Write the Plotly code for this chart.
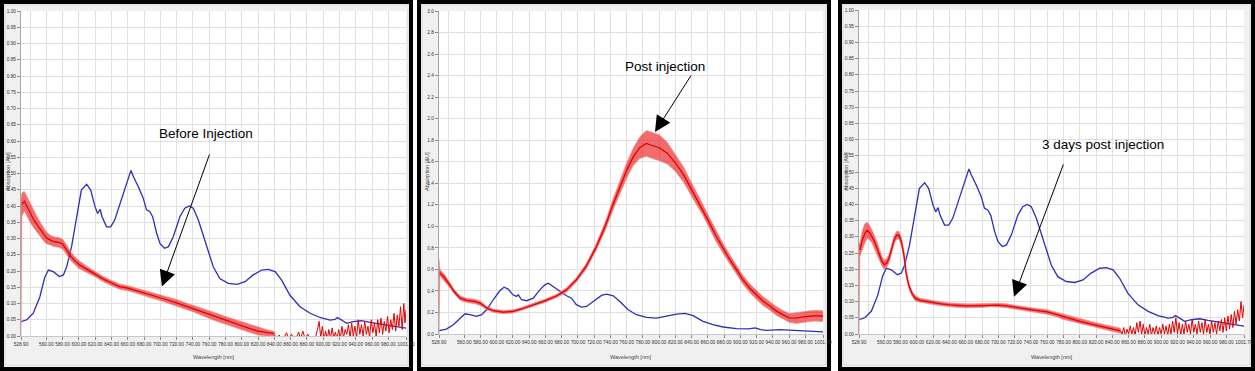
import plotly.graph_objects as go

# ---------------- data ----------------
# Blue reference spectrum (panels 1 and 3)
wl_blue_ref = [528.9, 536, 544, 552, 558, 562.5, 568.6, 576, 581, 585, 591, 597, 603, 609.5,
               614.5, 619.8, 623, 626, 628.4, 634, 639, 644, 650.5, 656.6, 662, 664, 667, 673,
               679, 683, 687, 690.6, 695.5, 699.6, 705, 710, 716, 724, 730, 735.6, 740.5, 746.7,
               753, 759, 765, 773, 783.5, 794, 804, 814, 824.5, 832.6, 841, 849, 859, 871.5,
               884, 896, 908.4, 914.5, 917.4, 922.7, 928.8, 937, 947.3, 957.5, 970, 982, 1001.7]
abs_blue_ref = [0.044, 0.05, 0.07, 0.12, 0.18, 0.203, 0.198, 0.183, 0.188, 0.213, 0.275, 0.367, 0.449, 0.467,
                0.449, 0.398, 0.377, 0.39, 0.367, 0.336, 0.336, 0.357, 0.408, 0.459, 0.495, 0.509, 0.49, 0.459,
                0.424, 0.388, 0.383, 0.367, 0.316, 0.285, 0.27, 0.275, 0.306, 0.367, 0.393, 0.40, 0.393, 0.357,
                0.306, 0.254, 0.213, 0.177, 0.162, 0.159, 0.167, 0.188, 0.203, 0.205, 0.198, 0.172, 0.126, 0.09,
                0.07, 0.057, 0.049, 0.051, 0.057, 0.049, 0.039, 0.044, 0.047, 0.042, 0.037, 0.031, 0.024]

# Blue spectrum in panel 2
wl_blue_post = [528.9, 538, 546.5, 554.7, 561, 567, 575, 581.4, 587.5, 595.7, 604, 609, 614, 620,
                624.4, 626.5, 630.6, 636.7, 645, 653, 659.3, 663.4, 669.5, 677.8, 686, 692, 698,
                704.4, 710.5, 718.8, 729, 735, 743.4, 751.6, 761.8, 772, 784.4, 796.7, 809, 821.3,
                831.5, 841.8, 854, 866.4, 878.7, 895, 910, 918, 925, 932, 948.4, 969, 1001.7]
abs_blue_post = [0.031, 0.046, 0.086, 0.148, 0.188, 0.179, 0.164, 0.179, 0.225, 0.318, 0.404, 0.435, 0.417, 0.364,
                 0.349, 0.364, 0.318, 0.309, 0.333, 0.41, 0.457, 0.472, 0.441, 0.395, 0.355, 0.333, 0.272,
                 0.25, 0.256, 0.302, 0.358, 0.37, 0.355, 0.302, 0.225, 0.179, 0.154, 0.148, 0.164, 0.185,
                 0.191, 0.17, 0.117, 0.086, 0.065, 0.049, 0.047, 0.056, 0.04, 0.034, 0.04, 0.031, 0.019]

# Red spectrum, panel 1 (before injection): noisy band, lower / upper edge
wl_red_before = [528.9, 530, 533, 536, 540, 544, 548, 552, 556, 560, 565, 570, 575, 580, 585, 590, 595,
                 600, 610, 620, 630, 640, 650, 660, 670, 680, 690, 700, 710, 720, 730, 740, 750, 760,
                 770, 780, 790, 800, 810, 820, 830, 840]
hi_red_before = [0.42, 0.44, 0.445, 0.43, 0.405, 0.385, 0.37, 0.352, 0.335, 0.32, 0.31, 0.305, 0.303, 0.298,
                 0.28, 0.258, 0.244, 0.232, 0.214, 0.198, 0.183, 0.171, 0.16, 0.155, 0.148, 0.141, 0.134,
                 0.127, 0.119, 0.112, 0.103, 0.095, 0.087, 0.078, 0.069, 0.06, 0.052, 0.043, 0.035, 0.027,
                 0.02, 0.014]
lo_red_before = [0.0, 0.37, 0.385, 0.37, 0.35, 0.335, 0.32, 0.308, 0.295, 0.284, 0.28, 0.275, 0.273, 0.268,
                 0.25, 0.232, 0.22, 0.208, 0.196, 0.182, 0.167, 0.155, 0.144, 0.139, 0.132, 0.125, 0.116,
                 0.109, 0.101, 0.092, 0.083, 0.075, 0.065, 0.054, 0.045, 0.036, 0.028, 0.019, 0.011, 0.003,
                 0.0, 0.0]
# noisy tail near zero (spikes)
wl_tail_before = [840, 843, 846, 849, 852, 855, 858, 861, 864, 867, 870, 872, 875, 878, 881, 884, 887, 890,
                  893, 895, 897, 899, 901, 903, 905, 907, 909, 911, 913, 915, 917, 919, 921, 923, 925, 927,
                  929, 931, 933, 935, 937, 939, 941, 943, 945, 947, 949, 951, 953, 955, 957, 959, 961, 963,
                  965, 967, 969, 971, 973, 975, 977, 979, 981, 983, 985, 987, 989, 991, 993, 995, 997, 999,
                  1000.5, 1001.7]
abs_tail_before = [0.004, -0.01, 0.003, -0.01, -0.005, 0.01, -0.01, 0.006, -0.01, -0.005, 0.012, -0.01, 0.015,
                   -0.01, 0.006, -0.01, -0.005, -0.01, 0.02, 0.045, -0.005, 0.03, -0.01, 0.015, -0.01, 0.02,
                   -0.01, 0.025, -0.005, 0.012, -0.01, 0.02, -0.01, 0.03, -0.005, 0.02, 0.005, 0.035, -0.005,
                   0.04, 0.0, 0.03, -0.005, 0.05, 0.005, 0.035, 0.0, 0.045, 0.005, 0.03, -0.005, 0.05, 0.01,
                   0.04, 0.0, 0.05, 0.01, 0.055, 0.005, 0.045, 0.015, 0.06, 0.01, 0.05, 0.02, 0.07, 0.015,
                   0.065, 0.03, 0.09, 0.02, 0.1, 0.04, 0.08]

# Red spectrum, panel 2 (post injection): band centre and half-width of the noise
wl_red_post = [528.9, 530, 536, 542, 548, 555, 563, 573, 580, 588, 596, 608, 620, 630, 645, 660, 674, 686,
               698, 710, 722, 734, 743, 752, 760, 768, 776, 784, 792, 800, 810, 820, 830, 838, 846, 854,
               862, 870, 879, 887, 895, 903, 911, 920, 928, 936, 944, 952, 960, 969, 977, 985, 993, 1001.7]
mid_red_post = [0.35, 0.57, 0.52, 0.457, 0.39, 0.333, 0.312, 0.302, 0.285, 0.24, 0.216, 0.204, 0.21, 0.23,
                0.27, 0.31, 0.355, 0.41, 0.503, 0.627, 0.8, 1.01, 1.2, 1.37, 1.52, 1.645, 1.73, 1.77, 1.75,
                1.73, 1.68, 1.59, 1.48, 1.37, 1.26, 1.15, 1.03, 0.91, 0.79, 0.69, 0.6, 0.505, 0.43, 0.36,
                0.305, 0.262, 0.215, 0.18, 0.15, 0.148, 0.16, 0.165, 0.17, 0.165]
spread_red_post = [0.35, 0.03, 0.03, 0.025, 0.02, 0.02, 0.02, 0.02, 0.02, 0.015, 0.015, 0.015, 0.015, 0.015,
                   0.015, 0.015, 0.015, 0.02, 0.02, 0.025, 0.03, 0.04, 0.05, 0.06, 0.07, 0.08, 0.1, 0.12,
                   0.12, 0.12, 0.1, 0.08, 0.07, 0.06, 0.06, 0.05, 0.05, 0.05, 0.045, 0.045, 0.04, 0.04, 0.04,
                   0.04, 0.04, 0.04, 0.04, 0.04, 0.04, 0.05, 0.05, 0.05, 0.05, 0.05]

# Red spectrum, panel 3 (3 days post injection)
wl_red_3d = [528.9, 530, 533, 536, 539, 542, 545, 548, 551, 554, 557, 560, 563, 566, 569, 572, 575, 578,
             581, 584, 587, 590, 594, 598, 604, 612, 620, 630, 640, 650, 660, 670, 680, 690, 700, 710,
             720, 730, 740, 750, 760, 770, 780, 790, 800, 810, 820, 830, 840, 850]
hi_red_3d = [0.28, 0.28, 0.32, 0.34, 0.345, 0.335, 0.32, 0.305, 0.285, 0.262, 0.24, 0.228, 0.232, 0.248,
             0.275, 0.302, 0.317, 0.317, 0.297, 0.257, 0.195, 0.16, 0.133, 0.118, 0.11, 0.106, 0.103,
             0.099, 0.096, 0.094, 0.093, 0.093, 0.094, 0.096, 0.095, 0.093, 0.09, 0.085, 0.081, 0.079,
             0.075, 0.068, 0.061, 0.054, 0.047, 0.041, 0.035, 0.029, 0.024, 0.018]
lo_red_3d = [0.0, 0.24, 0.26, 0.28, 0.295, 0.29, 0.28, 0.265, 0.245, 0.228, 0.21, 0.2, 0.205, 0.222, 0.25,
             0.278, 0.293, 0.293, 0.273, 0.233, 0.175, 0.14, 0.117, 0.102, 0.098, 0.094, 0.091, 0.087,
             0.084, 0.082, 0.081, 0.081, 0.082, 0.084, 0.083, 0.081, 0.078, 0.073, 0.069, 0.065, 0.061,
             0.054, 0.045, 0.038, 0.031, 0.025, 0.019, 0.013, 0.008, 0.002]
wl_tail_3d = [850, 852, 854, 856, 858, 860, 862, 864, 866, 868, 870, 872, 874, 876, 878, 880, 882, 884, 886,
              888, 890, 892, 894, 896, 898, 900, 902, 904, 906, 908, 910, 912, 914, 916, 918, 920, 922, 924,
              926, 928, 930, 932, 934, 936, 938, 940, 942, 944, 946, 948, 950, 952, 954, 956, 958, 960, 962,
              964, 966, 968, 970, 972, 974, 976, 978, 980, 982, 984, 986, 988, 990, 992, 994, 996, 998, 1000,
              1001.7]
abs_tail_3d = [0.01, 0.0, 0.02, -0.005, 0.015, 0.0, 0.025, 0.0, 0.02, -0.005, 0.035, 0.005, 0.04, 0.0, 0.03,
               -0.005, 0.02, 0.0, 0.03, -0.005, 0.02, 0.0, 0.025, -0.005, 0.02, 0.0, 0.03, 0.0, 0.025, -0.005,
               0.03, 0.0, 0.04, 0.005, 0.05, 0.0, 0.035, -0.005, 0.03, 0.0, 0.04, 0.005, 0.03, 0.0, 0.045, 0.005,
               0.03, 0.0, 0.04, 0.005, 0.035, 0.0, 0.045, 0.005, 0.03, 0.0, 0.04, 0.005, 0.035, 0.0, 0.04, 0.01,
               0.045, 0.005, 0.05, 0.01, 0.055, 0.015, 0.06, 0.02, 0.07, 0.03, 0.075, 0.04, 0.1, 0.05, 0.09]

# Axis ticks
x_tickvals = [528.9] + list(range(560, 1000, 20)) + [1001.7]
x_ticktext = ["528.90"] + ["%d.00" % v for v in range(560, 1000, 20)] + ["1001.70"]

labels = ["Before Injection", "Post injection", "3 days post injection"]

# ---------------- layout helpers ----------------
W, H = 1255, 371


def PX(p):
    return p / W


def PY(p):
    return 1 - p / H


BLUE = "rgb(45,45,185)"
RED = "rgb(228,0,0)"
RED_FILL = "rgba(232,10,10,0.6)"
RED_EDGE = "rgba(245,140,140,0.9)"

panels = [
    dict(box=(0, 413), plot=(21, 406, 11, 336), ymax=1.0, dtick=0.05, fmt=".2f",
         blue=(wl_blue_ref, abs_blue_ref), ylab_x=8),
    dict(box=(417, 831), plot=(439, 823, 11, 334), ymax=3.0, dtick=0.2, fmt=".1f",
         blue=(wl_blue_post, abs_blue_post), ylab_x=427),
    dict(box=(838, 1255), plot=(859, 1244, 10, 334), ymax=1.0, dtick=0.05, fmt=".2f",
         blue=(wl_blue_ref, abs_blue_ref), ylab_x=846),
]

# red bands
red_post_hi = [m + s for m, s in zip(mid_red_post, spread_red_post)]
red_post_lo = [max(m - s, 0.0) for m, s in zip(mid_red_post, spread_red_post)]
red_bands = [
    (wl_red_before, lo_red_before, hi_red_before, (wl_tail_before, abs_tail_before)),
    (wl_red_post, red_post_lo, red_post_hi, None),
    (wl_red_3d, lo_red_3d, hi_red_3d, (wl_tail_3d, abs_tail_3d)),
]

fig = go.Figure()
shapes = []
annotations = []
layout = {}

tick_font = dict(family="Liberation Sans Narrow, Arial Narrow, Liberation Sans, Arial", size=4.8, color="#333333")

for i, p in enumerate(panels):
    n = "" if i == 0 else str(i + 1)
    xa, ya = "x" + n, "y" + n
    bx0, bx1 = p["box"]
    l, r, t, b = p["plot"]

    # panel frame: gray background with thick black border
    shapes.append(dict(type="rect", xref="paper", yref="paper", layer="below",
                       x0=PX(bx0 + 2), x1=PX(bx1 - 2), y0=PY(369), y1=PY(2),
                       fillcolor="#f0f0f0", line=dict(color="black", width=4)))
    shapes.append(dict(type="rect", xref="paper", yref="paper", layer="below",
                       x0=PX(bx0 + 5), x1=PX(bx1 - 5), y0=PY(365), y1=PY(5),
                       fillcolor="rgba(0,0,0,0)", line=dict(color="#dadada", width=1)))
    shapes.append(dict(type="rect", xref="paper", yref="paper", layer="below",
                       x0=PX(l), x1=PX(r), y0=PY(b), y1=PY(t),
                       fillcolor="white", line=dict(width=0)))

    # blue trace
    bw, bv = p["blue"]
    fig.add_trace(go.Scatter(x=bw, y=bv, mode="lines", xaxis=xa, yaxis=ya,
                             line=dict(color=BLUE, width=1.3), hoverinfo="skip", showlegend=False))

    # red noisy band
    rw, rlo, rhi, tail = red_bands[i]
    fig.add_trace(go.Scatter(x=list(rw) + list(rw)[::-1], y=list(rhi) + list(rlo)[::-1],
                             mode="lines", fill="toself", fillcolor=RED_FILL,
                             xaxis=xa, yaxis=ya, line=dict(color=RED_EDGE, width=0.8),
                             hoverinfo="skip", showlegend=False))
    mid = [(a + c) / 2 for a, c in zip(rlo, rhi)]
    fig.add_trace(go.Scatter(x=rw[1:], y=mid[1:], mode="lines", xaxis=xa, yaxis=ya,
                             line=dict(color=RED, width=1.3), hoverinfo="skip", showlegend=False))
    if tail is not None:
        fig.add_trace(go.Scatter(x=tail[0], y=tail[1], mode="lines", xaxis=xa, yaxis=ya,
                                 line=dict(color=RED, width=1), hoverinfo="skip", showlegend=False))

    layout["xaxis" + n] = dict(
        domain=[PX(l), PX(r)], anchor=ya, range=[528.9, 1001.7], automargin=False,
        tickmode="array", tickvals=x_tickvals, ticktext=x_ticktext, tickangle=0,
        tickfont=tick_font, ticks="outside", ticklen=3, tickcolor="#888888",
        showgrid=True, gridcolor="#e0e0e0", gridwidth=1,
        minor=dict(tickmode="array", tickvals=[540], showgrid=True, gridcolor="#e0e0e0", ticks=""),
        showline=True, linecolor="#c8c8c8", linewidth=1, zeroline=False, fixedrange=True)
    layout["yaxis" + n] = dict(
        domain=[PY(b), PY(t)], anchor=xa, range=[0, p["ymax"]], automargin=False,
        tickmode="linear", tick0=0, dtick=p["dtick"], tickformat=p["fmt"],
        tickfont=tick_font, ticks="outside", ticklen=3, tickcolor="#888888",
        showgrid=True, gridcolor="#e0e0e0", gridwidth=1,
        showline=True, linecolor="#a8a8a8", linewidth=1, zeroline=False, fixedrange=True)

    # axis titles
    annotations.append(dict(text="Wavelength [nm]", xref="paper", yref="paper",
                            x=PX((l + r) / 2), y=PY(357), showarrow=False,
                            font=dict(family=tick_font["family"], size=5.5, color="#444444"),
                            xanchor="center", yanchor="middle"))
    annotations.append(dict(text="Absorption [AU]", xref="paper", yref="paper",
                            x=PX(p["ylab_x"]), y=PY(172), showarrow=False, textangle=-90,
                            font=dict(family=tick_font["family"], size=5.5, color="#444444"),
                            xanchor="center", yanchor="middle"))

# callout labels (data coordinates) and arrows
label_pos = [(756.0, 0.622), (806.7, 2.48), (828.5, 0.586)]
arrow_tail = [(761.0, 0.563), (840.4, 2.415), (780.6, 0.528)]
arrow_tip = [(702.0, 0.152), (794.8, 1.876), (719.2, 0.115)]

for i in range(3):
    n = "" if i == 0 else str(i + 1)
    xa, ya = "x" + n, "y" + n
    annotations.append(dict(text=labels[i], xref=xa, yref=ya, x=label_pos[i][0], y=label_pos[i][1],
                            showarrow=False, xanchor="center", yanchor="middle",
                            font=dict(family="Liberation Sans, Arial", size=13.5, color="black")))
    annotations.append(dict(text="", xref=xa, yref=ya, axref=xa, ayref=ya,
                            x=arrow_tip[i][0], y=arrow_tip[i][1],
                            ax=arrow_tail[i][0], ay=arrow_tail[i][1],
                            showarrow=True, arrowhead=2, arrowsize=3.2, arrowwidth=1,
                            arrowcolor="black"))

fig.update_layout(
    width=W, height=H, margin=dict(l=0, r=0, t=0, b=0, autoexpand=False),
    paper_bgcolor="white", plot_bgcolor="rgba(0,0,0,0)",
    showlegend=False, shapes=shapes, annotations=annotations, **layout)

fig.write_html("out.html", config={"displayModeBar": False})
